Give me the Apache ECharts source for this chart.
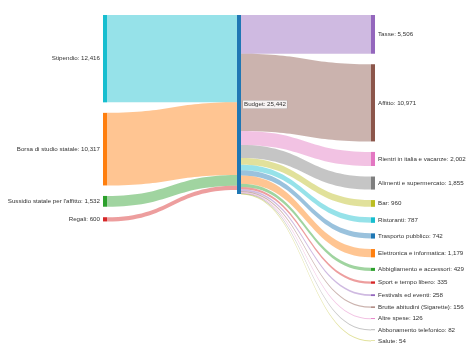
<!DOCTYPE html>
<html>
<head>
<meta charset="utf-8">
<script src="https://cdn.jsdelivr.net/npm/echarts@6/dist/echarts.min.js"></script>
<style>
  html, body { margin: 0; padding: 0; background: #fff; }
  #chart { width: 474px; height: 355px; }
</style>
</head>
<body>
<div id="chart"></div>
<script>
// entrate (colonna di sinistra)
var incomeNames = ['Stipendio', 'Borsa di studio statale', "Sussidio statale per l'affitto", 'Regali'];
var incomeValues = [12416, 10317, 1532, 600];

// nodo centrale
var budgetName = 'Budget';

// uscite (colonna di destra)
var expenseNames = [
    'Tasse', 'Affitto', 'Rientri in italia e vacanze', 'Alimenti e supermercato',
    'Bar', 'Ristoranti', 'Trasporto pubblico', 'Elettronica e informatica',
    'Abbigliamento e accessori', 'Sport e tempo libero', 'Festivals ed eventi',
    'Brutte abitudini (Sigarette)', 'Altre spese', 'Abbonamento telefonico', 'Salute'
];
var expenseValues = [5506, 10971, 2002, 1855, 960, 787, 742, 1179, 429, 335, 258, 156, 126, 82, 54];

var palette = ['#1f77b4', '#ff7f0e', '#2ca02c', '#d62728', '#9467bd',
               '#8c564b', '#e377c2', '#7f7f7f', '#bcbd22', '#17becf'];
var incomeColors = ['#17becf', '#ff7f0e', '#2ca02c', '#d62728'];

function sum(arr) {
    return arr.reduce(function (a, b) { return a + b; }, 0);
}

var nodes = [];
var links = [];

incomeNames.forEach(function (name, i) {
    nodes.push({
        name: name,
        value: incomeValues[i],
        itemStyle: { color: incomeColors[i] },
        label: { position: 'left' }
    });
    links.push({
        source: name,
        target: budgetName,
        value: incomeValues[i],
        lineStyle: { color: 'source' }
    });
});

nodes.push({
    name: budgetName,
    value: Math.max(sum(incomeValues), sum(expenseValues)),
    itemStyle: { color: '#1f77b4' },
    label: {
        position: 'right',
        distance: 2,
        backgroundColor: 'rgba(255,255,255,0.85)',
        borderColor: 'rgba(150,150,150,0.5)',
        borderWidth: 0.5,
        padding: [1, 1]
    }
});

expenseNames.forEach(function (name, i) {
    nodes.push({
        name: name,
        value: expenseValues[i],
        itemStyle: { color: palette[(i + 4) % 10] }
    });
    links.push({
        source: budgetName,
        target: name,
        value: expenseValues[i],
        lineStyle: { color: 'target' }
    });
});

var option = {
    animation: false,
    series: [
        {
            type: 'sankey',
            left: 103,
            right: 99,
            top: 15,
            bottom: 14,
            nodeWidth: 4,
            nodeGap: 10.5,
            layoutIterations: 0,
            draggable: false,
            emphasis: { disabled: true },
            itemStyle: { borderWidth: 0 },
            lineStyle: { opacity: 0.45, curveness: 0.5 },
            label: {
                show: true,
                position: 'right',
                distance: 3,
                color: '#333',
                fontFamily: 'Liberation Sans, Arial, sans-serif',
                fontSize: 6.2,
                formatter: function (p) {
                    return p.name + ': ' + p.value.toLocaleString('en-US');
                }
            },
            data: nodes,
            links: links
        }
    ]
};

var chart = echarts.init(document.getElementById('chart'));
chart.setOption(option);
</script>
</body>
</html>
